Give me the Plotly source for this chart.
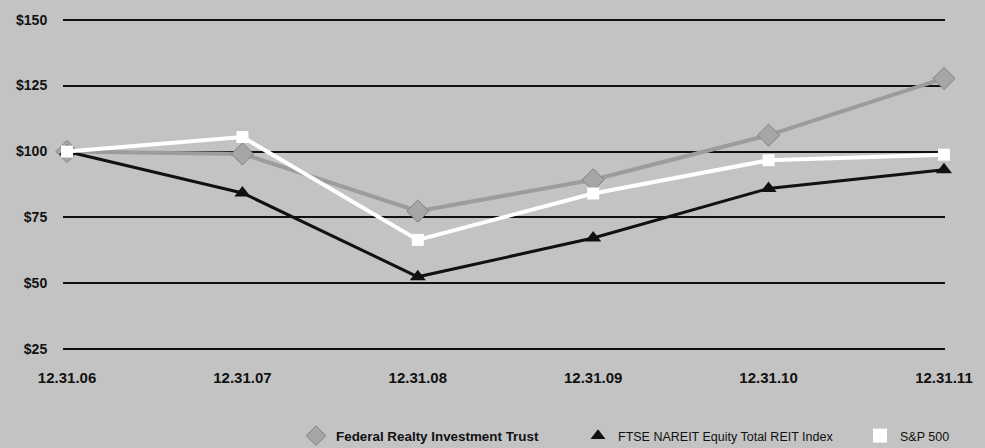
import plotly.graph_objects as go

dates = ["12.31.06", "12.31.07", "12.31.08", "12.31.09", "12.31.10", "12.31.11"]
frt = [100, 99.1, 77.4, 89.3, 106.2, 127.7]
nareit = [100, 84.3, 52.5, 67.2, 86.0, 93.1]
sp500 = [100, 105.5, 66.5, 84.1, 96.7, 98.8]
y_ticks = [25, 50, 75, 100, 125, 150]
y_labels = ["$25", "$50", "$75", "$100", "$125", "$150"]

names = ["<span style='font-size:13.4px'><b>Federal Realty Investment Trust</b></span>",
         "FTSE NAREIT Equity Total REIT Index", "S&P 500"]
xi = list(range(len(dates)))

FONT = "Liberation Sans, Arial, sans-serif"
fig = go.Figure()

fig.add_trace(go.Scatter(x=xi, y=frt, mode="lines+markers", showlegend=False,
                         line=dict(color="#9c9c9c", width=4),
                         marker=dict(symbol="diamond", size=17, color="#a6a6a6",
                                     line=dict(color="#808080", width=1)),
                         cliponaxis=False))
fig.add_trace(go.Scatter(x=xi, y=nareit, mode="lines+markers", showlegend=False,
                         line=dict(color="#111111", width=3),
                         marker=dict(symbol="triangle-up", size=14, color="#111111"),
                         cliponaxis=False))
fig.add_trace(go.Scatter(x=xi, y=sp500, mode="lines+markers", showlegend=False,
                         line=dict(color="#ffffff", width=4),
                         marker=dict(symbol="square", size=12, color="#ffffff"),
                         cliponaxis=False))

# legend-only entries (markers only)
fig.add_trace(go.Scatter(x=[None], y=[None], mode="markers", name=names[0],
                         marker=dict(symbol="diamond", size=15, color="#a6a6a6",
                                     line=dict(color="#808080", width=1))))
fig.add_trace(go.Scatter(x=[None], y=[None], mode="markers", name=names[1],
                         marker=dict(symbol="triangle-up", size=13, color="#111111")))
fig.add_trace(go.Scatter(x=[None], y=[None], mode="markers", name=names[2],
                         marker=dict(symbol="square", size=14, color="#ffffff")))

fig.update_layout(
    width=985, height=448,
    margin=dict(l=63, r=40, t=15, b=96),
    paper_bgcolor="#c3c3c3", plot_bgcolor="#c3c3c3",
    font=dict(family=FONT, color="#111111"),
    showlegend=True,
    legend=dict(orientation="h", xref="container", yref="container",
                x=296/985, xanchor="left", y=12/448, yanchor="middle",
                bgcolor="rgba(0,0,0,0)", font=dict(size=12.5, color="#111111"),
                entrywidth=237, entrywidthmode="pixels", itemsizing="trace"),
)
fig.update_xaxes(range=[-0.023, 5.006], tickmode="array", tickvals=xi,
                 ticktext=["<b>%s</b>" % d for d in dates],
                 showgrid=False, zeroline=False, showline=False,
                 ticks="outside", ticklen=12, tickcolor="rgba(0,0,0,0)",
                 tickfont=dict(family=FONT, size=15, color="#111111"),
                 fixedrange=True)
fig.update_yaxes(range=[24, 151], tickmode="array", tickvals=y_ticks,
                 ticktext=["<b>%s</b>" % t for t in y_labels],
                 showgrid=True, gridcolor="#111111", gridwidth=1.5,
                 zeroline=False, showline=False,
                 ticks="outside", ticklen=12, tickcolor="rgba(0,0,0,0)",
                 tickfont=dict(family=FONT, size=14, color="#111111"),
                 fixedrange=True)

fig.write_html("out.html", config={"displayModeBar": False},
               post_script="document.body.style.margin='0';document.body.style.padding='0';")
